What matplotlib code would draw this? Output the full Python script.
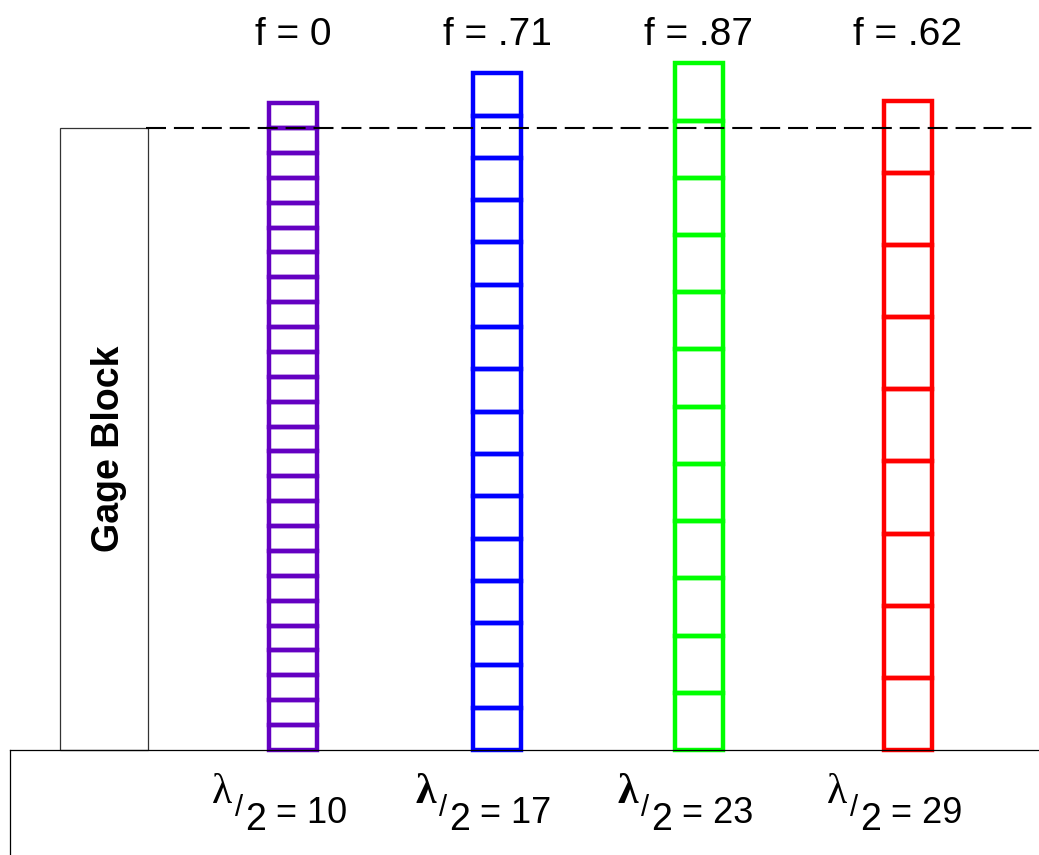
import matplotlib

matplotlib.use("Agg")

import matplotlib.pyplot as plt
from matplotlib.patches import Rectangle

# data: gage block height and the four wavelengths (same length units)
block_height = 250
half_waves = [10, 17, 23, 29]
fractions = [0.0, 0.71, 0.87, 0.62]
segments_drawn = [26, 16, 12, 9]
frac_labels = ["f = 0", "f = .71", "f = .87", "f = .62"]

# layout (pixels)
W, H = 1039, 855
BASE_PX, TOP_PX = 750, 128
col_x = [293, 497, 699, 908]
col_w = 48
col_colors = ["#6400c2", "#0000ff", "#00ff00", "#ff0000"]
lam_weights = ["normal", "bold", "bold", "normal"]

plt.rcParams["font.family"] = ["Liberation Sans", "DejaVu Sans"]

fig = plt.figure(figsize=(W / 100, H / 100), dpi=100)

# main axes: x in pixels, y in length units (0 = base, block_height = top of block)
upp = block_height / (BASE_PX - TOP_PX)
ax = fig.add_axes([0, 0, 1, 1])
ax.set_xlim(0, W)
ax.set_ylim(-(H - BASE_PX) * upp, block_height + TOP_PX * upp)
ax.axis("off")

# text overlay in pixel coords
tx = fig.add_axes([0, 0, 1, 1], facecolor="none")
tx.set_xlim(0, W)
tx.set_ylim(H, 0)
tx.axis("off")

# base plate and gage block
ax.plot([10, W], [0, 0], color="black", lw=0.9)
ax.plot([10, 10], [0, -(H - BASE_PX) * upp], color="black", lw=0.9)
ax.add_patch(Rectangle((60, 0), 88, block_height, fill=False, ec="#333333", lw=0.9))
ax.plot([146, W], [block_height, block_height], color="black", lw=1.5, dashes=(9.6, 3.8))
tx.text(109, 449, "Gage Block", rotation=90, ha="center", va="center",
        fontsize=27, fontweight="bold")

# stacked half-wavelength columns
for xc, half, nseg, color in zip(col_x, half_waves, segments_drawn, col_colors):
    for i in range(nseg):
        ax.add_patch(Rectangle((xc - col_w / 2, i * half), col_w, half,
                               fill=False, ec=color, lw=3.2, joinstyle="miter"))

for xc, lab in zip(col_x, frac_labels):
    tx.text(xc, 45, lab, ha="center", va="baseline", fontsize=28)

for xc, half, wt in zip(col_x, half_waves, lam_weights):
    x0 = xc - 81
    tx.text(x0, 803, "\u03bb", ha="left", va="baseline", fontsize=30, fontweight=wt,
            family=["Liberation Serif", "DejaVu Serif"])
    tx.text(x0 + 23, 816, "/", ha="left", va="baseline", fontsize=21)
    tx.text(x0 + 33, 830, "2", ha="left", va="baseline", fontsize=27)
    tx.text(x0 + 64, 823, f"= {half}", ha="left", va="baseline", fontsize=26)

fig.savefig("out.png", dpi=100, facecolor="white")
